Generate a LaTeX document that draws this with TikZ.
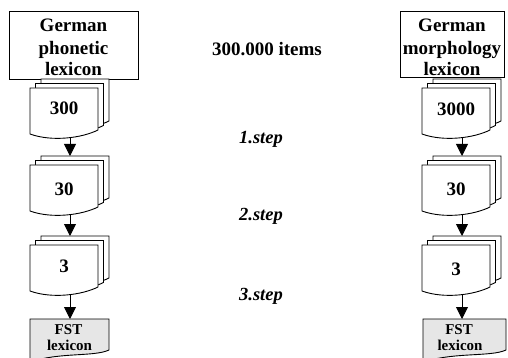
\documentclass[tikz,border=0pt]{standalone}
\usepackage{fontspec}
\setmainfont{Liberation Serif}
\usetikzlibrary{arrows.meta}
\tikzset{
  docline/.style={draw=black, line width=0.9pt, fill=white},
  fstline/.style={draw=black, line width=0.9pt, fill=fstgray},
  bigbox/.style={draw=black, line width=0.9pt, fill=white, inner sep=0pt},
  conn/.style={draw=black, line width=0.9pt, -{Triangle[length=12pt,width=12pt]}},
  lbl/.style={font=\fontsize{19}{22}\selectfont\bfseries, inner sep=0pt, anchor=base},
  steplbl/.style={font=\fontsize{18.5}{22}\selectfont\bfseries\itshape, inner sep=0pt, anchor=base},
  fstlbl/.style={font=\fontsize{15}{16}\selectfont\bfseries, inner sep=0pt, anchor=base},
  docstack/.pic={
    \path[docline, shift={(11,-9)}] (0,0) -- (68,0) -- (68,42) .. controls (52,50) and (22,54) .. (0,46) -- cycle;
    \path[docline, shift={(5.5,-4.5)}] (0,0) -- (68,0) -- (68,42) .. controls (52,50) and (22,54) .. (0,46) -- cycle;
    \path[docline] (0,0) -- (68,0) -- (68,42) .. controls (52,50) and (22,54) .. (0,46) -- cycle;
    \coordinate (-bot) at (40,49.5);
    \coordinate (-top) at (40,-9);
  }
}
\definecolor{fstgray}{HTML}{E6E6E6}
\begin{document}
\begin{tikzpicture}[x=1pt,y=-1pt]
\useasboundingbox (0,0) rectangle (508,358);
\clip (0,0) rectangle (508,358);

% top boxes
\node[bigbox, minimum width=129pt, minimum height=68pt] (lbox) at (73.5,45) {};
\node[bigbox, minimum width=104pt, minimum height=66pt] (rbox) at (452,44) {};
\node[lbl] (lt1) at (73.5,31.7) {German};
\node[lbl] (lt2) at (73.5,54.3) {phonetic};
\node[lbl] (lt3) at (73.5,76) {lexicon};
\node[lbl] (rt1) at (452,31.7) {German};
\node[lbl] (rt2) at (452,54.3) {morphology};
\node[lbl] (rt3) at (452,76) {lexicon};

% middle labels
\node[lbl] (items) at (267,56) {300.000 items};
\node[steplbl] (st1) at (261,143.3) {1.step};
\node[steplbl] (st2) at (261,220.7) {2.step};
\node[steplbl] (st3) at (261,300) {3.step};

% left column stacks
\pic (l1) at (30,88) {docstack};
\pic (l2) at (30,165) {docstack};
\pic (l3) at (30,245) {docstack};
\node[lbl] (l1t) at (64,115) {300};
\node[lbl] (l2t) at (64,195) {30};
\node[lbl] (l3t) at (64,272.5) {3};

% right column stacks
\pic (r1) at (422,88) {docstack};
\pic (r2) at (422,165) {docstack};
\pic (r3) at (422,245) {docstack};
\node[lbl] (r1t) at (456,115.5) {3000};
\node[lbl] (r2t) at (456,195.5) {30};
\node[lbl] (r3t) at (456,275) {3};

% FST boxes
\path[fstline] (30,319) -- (109,319) -- (109,350) .. controls (94,357) and (60,352) .. (30,362) -- cycle;
\path[fstline] (423,319) -- (506,319) -- (506,350) .. controls (491,357) and (455,352) .. (423,362) -- cycle;
\coordinate (lfst) at (70,319);
\coordinate (rfst) at (462,319);
\node[fstlbl] (lf1) at (68.5,334) {FST};
\node[fstlbl] (lf2) at (69.5,350) {lexicon};
\node[fstlbl] (rf1) at (459,334) {FST};
\node[fstlbl] (rf2) at (460,350) {lexicon};

% connectors
\draw[conn] (l1-bot) -- (l2-top);
\draw[conn] (l2-bot) -- (l3-top);
\draw[conn] (l3-bot) -- (lfst);
\draw[conn] (r1-bot) -- (r2-top);
\draw[conn] (r2-bot) -- (r3-top);
\draw[conn] (r3-bot) -- (rfst);
\end{tikzpicture}
\end{document}
